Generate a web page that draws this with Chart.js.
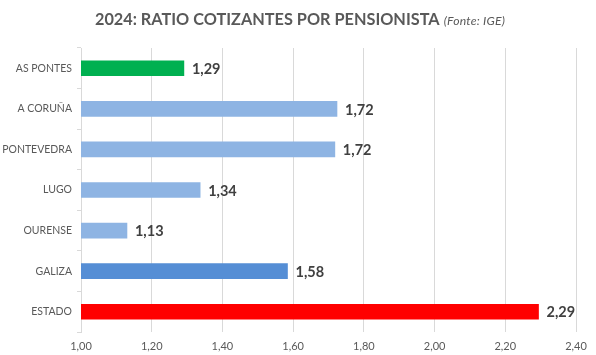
<!DOCTYPE html>
<html>
<head>
<meta charset="utf-8">
<script src="https://cdn.jsdelivr.net/npm/chart.js@4"></script>
<style>
  html, body { margin: 0; padding: 0; background: #fff; }
  #wrap { position: relative; width: 596px; height: 355px; }
  #title { position: absolute; left: 0; width: 596px; top: 9px; text-align: center; padding-left: 4px; box-sizing: border-box;
           font-family: Lato, "Open Sans", sans-serif; color: #595959; white-space: nowrap; }
  #title .main { font-weight: bold; font-size: 16.3px; }
  #title .src { font-style: italic; font-size: 12.2px; letter-spacing: 0.2px; }
  canvas { position: absolute; left: 0; top: 0; }
</style>
</head>
<body>
<div id="wrap">
  <canvas id="c" width="596" height="355"></canvas>
  <div id="title"><span class="main">2024: RATIO COTIZANTES POR PENSIONISTA</span> <span class="src">(Fonte: IGE)</span></div>
</div>
<script>
const categories = ["AS PONTES", "A CORUÑA", "PONTEVEDRA", "LUGO", "OURENSE", "GALIZA", "ESTADO"];
const ratios = [1.291, 1.724, 1.718, 1.337, 1.130, 1.584, 2.294];
const barColors = ["#00B050", "#8EB4E3", "#8EB4E3", "#8EB4E3", "#8EB4E3", "#558ED5", "#FF0000"];
const axisMin = 1.0, axisMax = 2.4, axisStep = 0.2;

const fmt = v => v.toFixed(2).replace('.', ',');

const valueLabels = {
  id: 'valueLabels',
  afterDatasetsDraw(chart) {
    const ctx = chart.ctx;
    const meta = chart.getDatasetMeta(0);
    ctx.save();
    ctx.font = 'bold 14.5px Lato, "Open Sans", sans-serif';
    ctx.fillStyle = '#404040';
    ctx.textBaseline = 'middle';
    ctx.textAlign = 'left';
    meta.data.forEach((bar, i) => {
      ctx.fillText(fmt(chart.data.datasets[0].data[i]), bar.x + 8, bar.y + 1);
    });
    ctx.restore();
  }
};

new Chart(document.getElementById('c'), {
  type: 'bar',
  data: {
    labels: categories,
    datasets: [{
      data: ratios,
      backgroundColor: barColors,
      barThickness: 15,
      borderWidth: 0
    }]
  },
  options: {
    indexAxis: 'y',
    responsive: false,
    animation: false,
    layout: { padding: { top: 48, right: 20, left: 0, bottom: 0 } },
    plugins: { legend: { display: false }, tooltip: { enabled: false }, title: { display: false } },
    scales: {
      x: {
        min: axisMin, max: axisMax,
        afterFit: s => { s.height = 23; },
        grid: { color: '#D9D9D9', lineWidth: 1, drawTicks: false },
        border: { display: false },
        ticks: {
          stepSize: axisStep,
          padding: 8,
          color: '#595959',
          font: { family: 'Lato, "Open Sans", sans-serif', size: 11 },
          callback: v => fmt(v)
        }
      },
      y: {
        afterFit: s => { s.width = 81; },
        grid: { offset: true, drawOnChartArea: false, drawTicks: true, tickLength: 4, color: '#D9D9D9' },
        border: { display: true, color: '#D9D9D9' },
        ticks: {
          padding: 5,
          color: '#595959',
          font: { family: 'Lato, "Open Sans", sans-serif', size: 10.5 }
        }
      }
    }
  },
  plugins: [valueLabels]
});
</script>
</body>
</html>
